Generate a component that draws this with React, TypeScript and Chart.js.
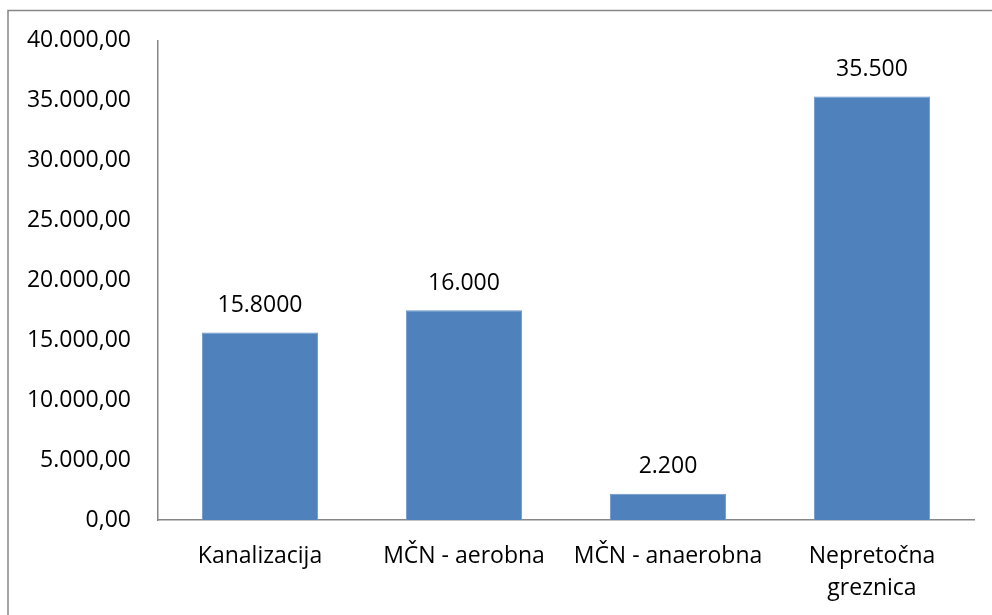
import React, { useEffect, useRef } from "react";
import { Chart, registerables } from "chart.js";

Chart.register(...registerables);

const categories: (string | string[])[] = [
  "Kanalizacija",
  "MČN - aerobna",
  "MČN - anaerobna",
  ["Nepretočna", "greznica"],
];
const values = [15650, 17500, 2200, 35350];
const valueLabels = ["15.8000", "16.000", "2.200", "35.500"];
const yTicks = [0, 5000, 10000, 15000, 20000, 25000, 30000, 35000, 40000];

const FONT = "'Open Sans', sans-serif";

function fmt(v: number) {
  const s = Math.round(v).toString().replace(/\B(?=(\d{3})+(?!\d))/g, ".");
  return s + ",00";
}

export default function App() {
  const ref = useRef<HTMLCanvasElement>(null);
  useEffect(() => {
    if (!ref.current) return;
    const frame = {
      id: "frame",
      afterDraw(chart: any) {
        const ctx = chart.ctx;
        ctx.save();
        ctx.strokeStyle = "#868686";
        ctx.lineWidth = 1.5;
        ctx.beginPath();
        ctx.moveTo(8, 620);
        ctx.lineTo(8, 10.5);
        ctx.lineTo(1000, 10.5);
        ctx.stroke();
        ctx.restore();
      },
    };
    const dataLabels = {
      id: "dataLabels",
      afterDatasetsDraw(chart: any) {
        const ctx = chart.ctx;
        const meta = chart.getDatasetMeta(0);
        ctx.save();
        ctx.fillStyle = "#000";
        ctx.font = `23px ${FONT}`;
        ctx.textAlign = "center";
        ctx.textBaseline = "middle";
        meta.data.forEach((bar: any, i: number) => {
          ctx.fillText(valueLabels[i], bar.x, bar.y - 27);
        });
        ctx.restore();
      },
    };
    const chart = new Chart(ref.current, {
      type: "bar",
      data: {
        labels: categories,
        datasets: [
          {
            data: values,
            backgroundColor: "#4F81BD",
            borderColor: "#6A95CC",
            borderWidth: 1,
            categoryPercentage: 1,
            barPercentage: 0.57,
          },
        ],
      },
      options: {
        responsive: false,
        animation: false,
        layout: { padding: { left: 0, top: 40, right: 18, bottom: 0 } },
        plugins: { legend: { display: false }, tooltip: { enabled: false } },
        scales: {
          y: {
            min: 0,
            max: 40000,
            afterBuildTicks(scale: any) {
              scale.ticks = yTicks.map((v) => ({ value: v }));
            },
            afterFit(scale: any) {
              scale.width = 158;
            },
            grid: { display: false, drawTicks: false },
            border: { display: true, color: "#868686", width: 1.5 },
            ticks: {
              color: "#000",
              padding: 27,
              font: { family: FONT, size: 23 },
              callback: (v: any) => fmt(Number(v)),
            },
          },
          x: {
            afterFit(scale: any) {
              scale.height = 615 - 520;
            },
            grid: { display: false, drawTicks: false },
            border: { display: true, color: "#868686", width: 1.5 },
            ticks: {
              color: "#000",
              padding: 20,
              maxRotation: 0,
              autoSkip: false,
              font: { family: FONT, size: 23, lineHeight: 1.4 },
            },
          },
        },
      },
      plugins: [frame, dataLabels],
    });
    return () => chart.destroy();
  }, []);
  return (
    <div style={{ position: "absolute", left: 0, top: 0, width: 992, height: 615, background: "#fff" }}>
      <canvas ref={ref} width={992} height={615} />
    </div>
  );
}
